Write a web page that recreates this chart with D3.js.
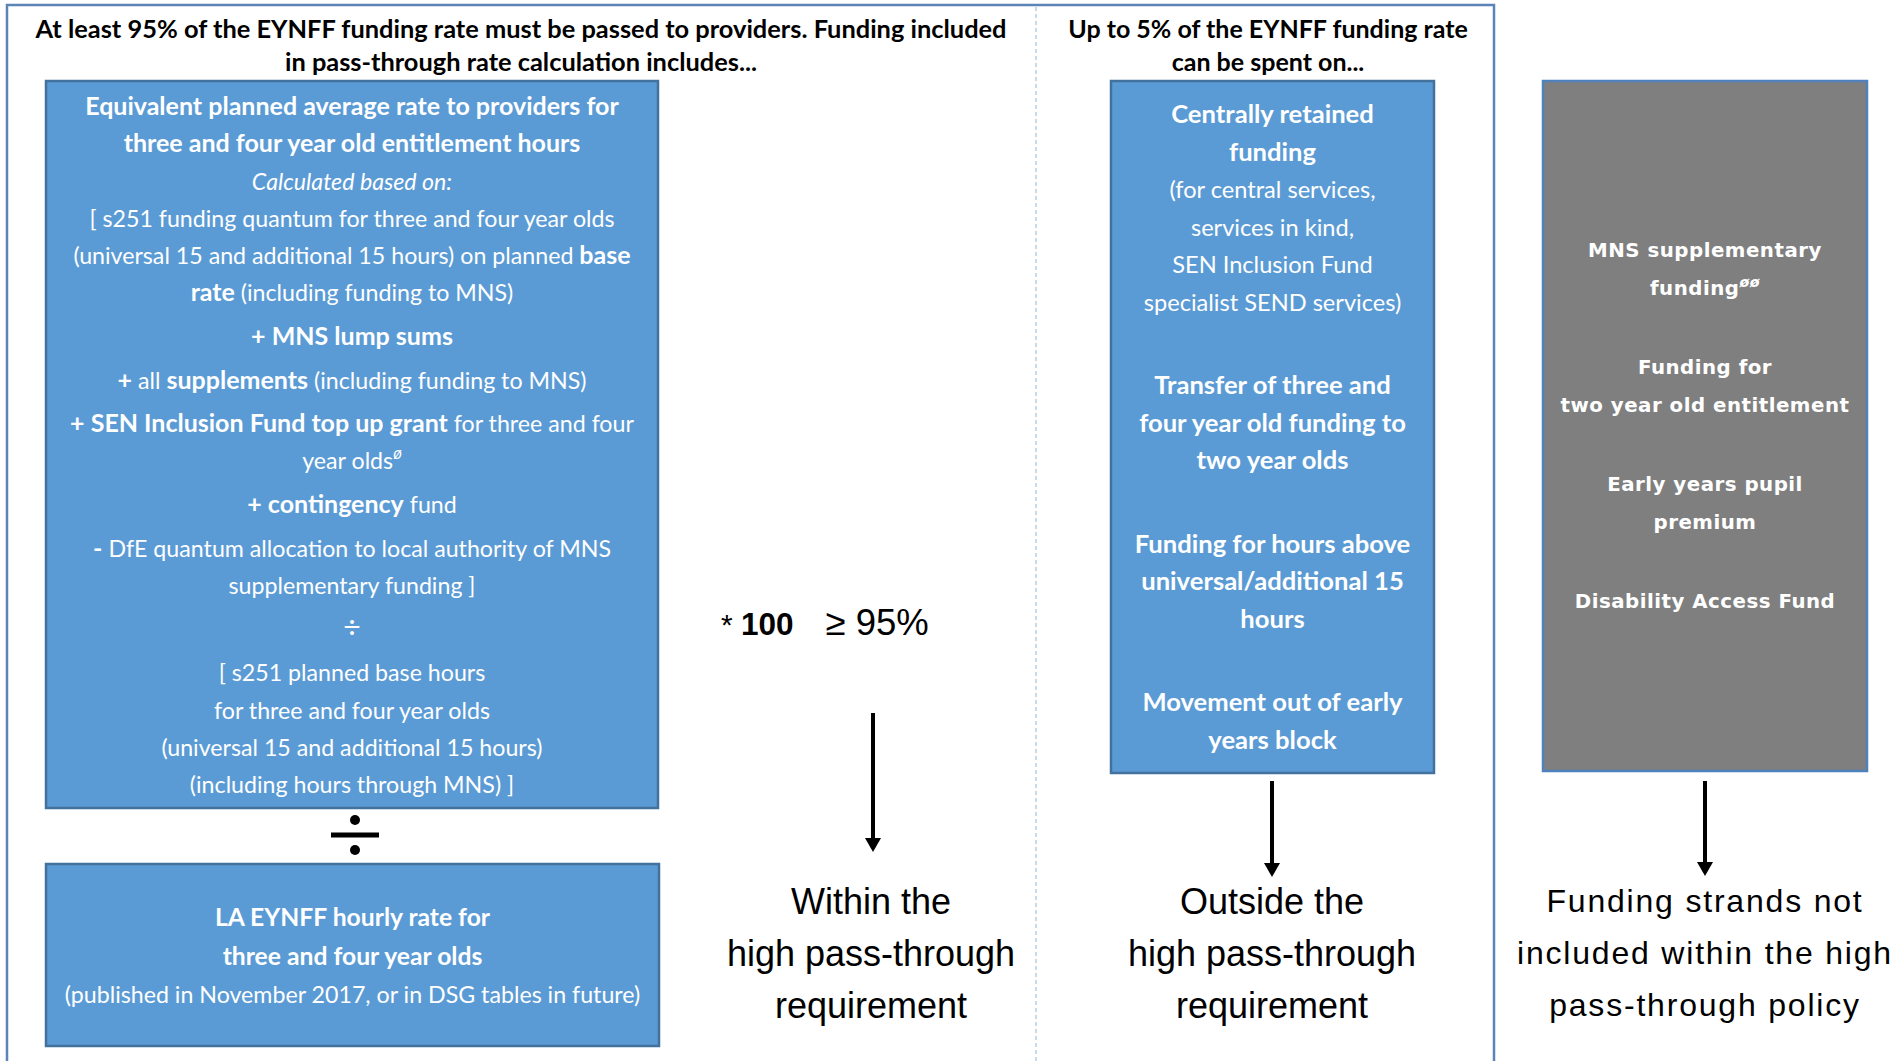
<!DOCTYPE html>
<html>
<head>
<meta charset="utf-8">
<script src="https://cdn.jsdelivr.net/npm/d3@7"></script>
<style>
body { margin: 0; background: #fff; }
text { white-space: pre; }
</style>
</head>
<body>
<script>

// ---- content ----
// every line is a list of [text, style] runs: b = bold, i = italic, s = superscript, L = large
var leftHeading = [
  "At least 95% of the EYNFF funding rate must be passed to providers. Funding included",
  "in pass-through rate calculation includes..."
];
var midHeading = ["Up to 5% of the EYNFF funding rate", "can be spent on..."];

var rateParas = [
  [ [["Equivalent planned average rate to providers for", "b"]],
    [["three and four year old entitlement hours", "b"]],
    [["Calculated based on:", "i"]],
    [["[ s251 funding quantum for three and four year olds", ""]],
    [["(universal 15 and additional 15 hours) on planned ", ""], ["base", "b"]],
    [["rate", "b"], [" (including funding to MNS)", ""]] ],
  [ [["+ MNS lump sums", "b"]] ],
  [ [["+ ", "b"], ["all ", ""], ["supplements", "b"], [" (including funding to MNS)", ""]] ],
  [ [["+ SEN Inclusion Fund top up grant", "b"], [" for three and four", ""]],
    [["year olds", ""], ["\u00f8", "s"]] ],
  [ [["+ contingency", "b"], [" fund", ""]] ],
  [ [["- ", "b"], ["DfE quantum allocation to local authority of MNS", ""]],
    [["supplementary funding ]", ""]] ],
  [ [["\u00f7", "L"]] ],
  [ [["[ s251 planned base hours", ""]],
    [["for three and four year olds", ""]],
    [["(universal 15 and additional 15 hours)", ""]],
    [["(including hours through MNS) ]", ""]] ]
];

var hourlyParas = [
  [ [["LA EYNFF hourly rate for", "b"]],
    [["three and four year olds", "b"]],
    [["(published in November 2017, or in DSG tables in future)", ""]] ]
];

var retainedParas = [
  [ [["Centrally retained", "b"]], [["funding", "b"]],
    [["(for central services,", ""]], [["services in kind,", ""]],
    [["SEN Inclusion Fund", ""]], [["specialist SEND services)", ""]] ],
  [ [["Transfer of three and", "b"]], [["four year old funding to", "b"]], [["two year olds", "b"]] ],
  [ [["Funding for hours above", "b"]], [["universal/additional 15", "b"]], [["hours", "b"]] ],
  [ [["Movement out of early", "b"]], [["years block", "b"]] ]
];

var excludedParas = [
  [ [["MNS supplementary", "b"]], [["funding", "b"], ["\u00f8\u00f8", "s"]] ],
  [ [["Funding for", "b"]], [["two year old entitlement", "b"]] ],
  [ [["Early years pupil", "b"]], [["premium", "b"]] ],
  [ [["Disability Access Fund", "b"]] ]
];

var multiplier = "100";
var threshold = "\u2265 95%";

var outcomeLabels = [
  ["Within the", "high pass-through", "requirement"],
  ["Outside the", "high pass-through", "requirement"],
  ["Funding strands not", "included within the high", "pass-through policy"]
];

// ---- layout ----
var W = 1899, H = 1061;
var blue = "#5b9bd5", blueEdge = "#41719c", grey = "#7f7f7f";
var bodyFont = "Lato, 'Open Sans', sans-serif";

var svg = d3.select("body").append("svg")
  .attr("width", W).attr("height", H)
  .attr("viewBox", [0, 0, W, H]);

// outer frame and dashed divider
svg.append("path")
  .attr("d", d3.line()([[7, H], [7, 5], [1494, 5], [1494, H]]))
  .attr("fill", "none").attr("stroke", "#5b84b8").attr("stroke-width", 2.5);
svg.append("line")
  .attr("x1", 1036).attr("x2", 1036).attr("y1", 7).attr("y2", H)
  .attr("stroke", "#9dc3e6").attr("stroke-width", 1.2).attr("stroke-dasharray", "4,3");

function heading(lines, cx, size) {
  svg.append("g").selectAll("text").data(lines).join("text")
    .attr("x", cx).attr("y", (d, i) => 29 + i * 33).attr("dy", "0.35em")
    .attr("text-anchor", "middle")
    .style("font-family", bodyFont).style("font-weight", 700).style("font-size", size + "px")
    .text(d => d);
}
heading(leftHeading, 521, 25.4);
heading(midHeading, 1268, 25);

// box with centred paragraphs
function box(b) {
  var g = svg.append("g");
  g.append("rect")
    .attr("x", b.x0).attr("y", b.y0).attr("width", b.x1 - b.x0).attr("height", b.y1 - b.y0)
    .attr("fill", b.fill).attr("stroke", b.edge || blueEdge).attr("stroke-width", 2.5);
  var rows = [], y = b.first;
  b.paras.forEach(function(p, pi) {
    if (pi > 0) y += b.gap;
    p.forEach(function(line, li) {
      if (li > 0 || pi > 0) y += b.lh;
      rows.push({ y: y, runs: line });
    });
  });
  var cx = (b.x0 + b.x1) / 2;
  var t = g.selectAll("text").data(rows).join("text")
    .attr("x", cx).attr("y", d => d.y).attr("dy", "0.35em")
    .attr("text-anchor", "middle").attr("fill", "#fff")
    .style("font-family", b.font || bodyFont)
    .style("font-size", b.size + "px")
    .style("letter-spacing", b.spacing || 0);
  function runSize(r) {
    if (r[1] === "s") return (b.size * 0.72) + "px";
    if (r[1] === "b") return b.bold + "px";
    if (r[1] === "L") return (b.size * 1.3) + "px";
    return null;
  }
  t.selectAll("tspan").data(d => d.runs).join("tspan")
    .style("font-weight", r => r[1] === "b" || (b.allBold && r[1] !== "") ? 700 : 400)
    .style("font-style", r => r[1] === "i" || r[1] === "s" ? "italic" : "normal")
    .style("font-size", runSize)
    .attr("baseline-shift", r => r[1] === "s" ? "super" : null)
    .text(r => r[0]);
}

box({ x0: 46, x1: 658, y0: 81, y1: 808, fill: blue, paras: rateParas,
      first: 107, lh: 37.2, gap: 6.5, size: 23.2, bold: 25 });
box({ x0: 46, x1: 659, y0: 864, y1: 1046, fill: blue, paras: hourlyParas,
      first: 918, lh: 38.5, size: 23.2, bold: 24.7 });
box({ x0: 1111, x1: 1434, y0: 81, y1: 773, fill: blue, paras: retainedParas,
      first: 115, lh: 37.5, gap: 46, size: 23.6, bold: 25.6 });
box({ x0: 1543, x1: 1867, y0: 81, y1: 771, fill: grey, edge: "#4f81bd", paras: excludedParas,
      first: 250, lh: 38.5, gap: 40, size: 19.8, bold: 19.8, spacing: "0.5px", allBold: true,
      font: "'DejaVu Sans', Verdana, sans-serif" });

// big divide sign between the two left boxes
var div = svg.append("g").attr("transform", "translate(355,835)");
div.append("rect").attr("x", -24).attr("y", -2.5).attr("width", 48).attr("height", 5).attr("fill", "#000");
div.selectAll("circle").data([-15, 15]).join("circle")
  .attr("cx", 0).attr("cy", d => d).attr("r", 5).attr("fill", "#000");

// "* 100  >= 95%"
var eq = svg.append("text").attr("x", 721).attr("y", 629).attr("dy", "0.35em")
  .style("font-family", "'Liberation Sans', Arial, sans-serif");
eq.append("tspan").style("font-size", "30px").text("* ");
eq.append("tspan").style("font-size", "31.5px").style("font-weight", 700).text(multiplier);
eq.append("tspan").attr("dx", 32).style("font-size", "36.5px").text(threshold);

// arrows
var arrows = [[873, 713, 852], [1272, 781, 877], [1705, 781, 876]];
arrows.forEach(function(a) {
  svg.append("line").attr("x1", a[0]).attr("x2", a[0]).attr("y1", a[1]).attr("y2", a[2] - 12)
    .attr("stroke", "#000").attr("stroke-width", 4);
  svg.append("path")
    .attr("d", d3.line()([[a[0] - 8, a[2] - 14], [a[0] + 8, a[2] - 14], [a[0], a[2]]]) + "Z")
    .attr("fill", "#000");
});

// outcome labels
var labelX = [871, 1272, 1705];
outcomeLabels.forEach(function(lines, k) {
  svg.append("g").selectAll("text").data(lines).join("text")
    .attr("x", labelX[k]).attr("y", (d, i) => 901 + i * 52).attr("dy", "0.35em")
    .attr("text-anchor", "middle")
    .style("font-family", "'Liberation Sans', Arial, sans-serif")
    .style("font-size", k === 2 ? "32px" : "36px")
    .style("letter-spacing", k === 2 ? "1.8px" : "0px")
    .text(d => d);
});

</script>
</body>
</html>
